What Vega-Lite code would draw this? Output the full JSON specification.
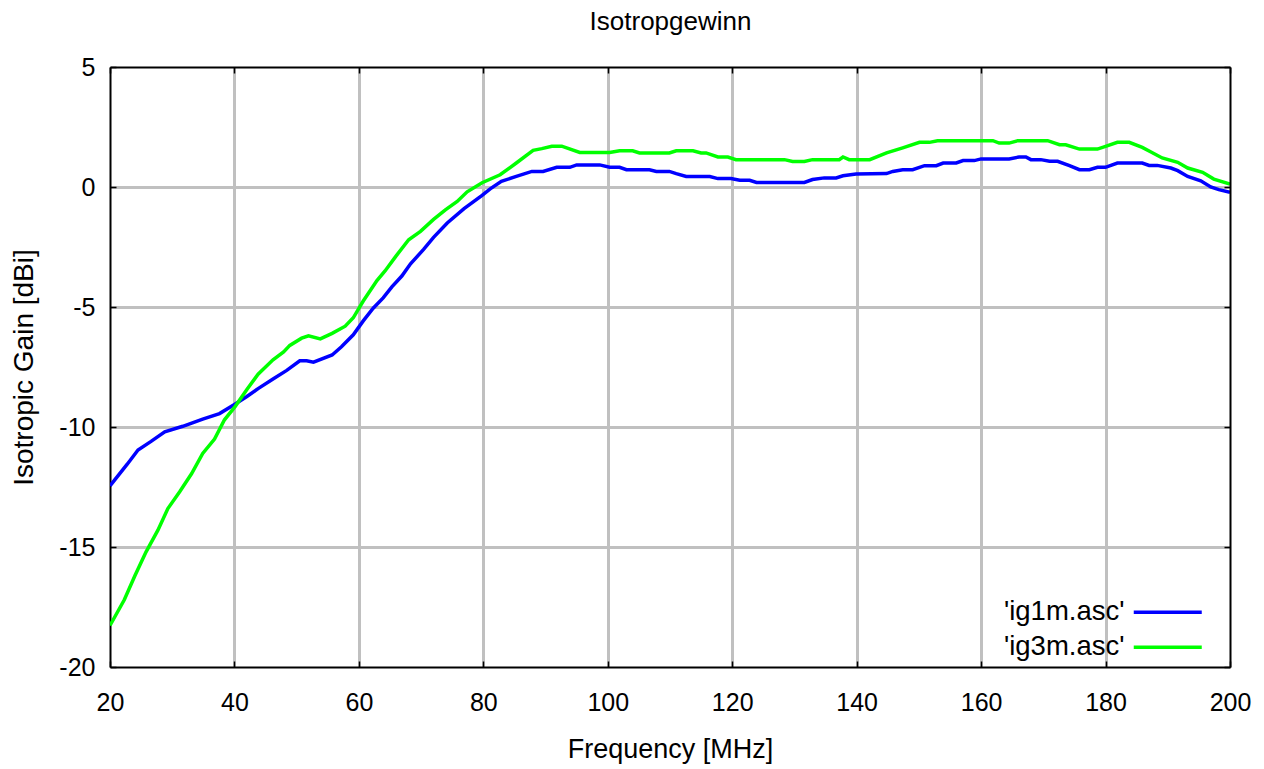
{
  "$schema": "https://vega.github.io/schema/vega-lite/v6.json",
  "autosize": {"type": "none"},
  "padding": {"left": 110, "top": 67, "right": 34, "bottom": 102},
  "width": 1120,
  "height": 600,
  "background": "white",
  "config": {"view": {"stroke": null}},
  "data": {"values": [
    {"f":20,"g":-12.45,"s":"'ig1m.asc'"},{"f":22.8,"g":-11.54,"s":"'ig1m.asc'"},{"f":24.5,"g":-10.96,"s":"'ig1m.asc'"},{"f":26.6,"g":-10.6,"s":"'ig1m.asc'"},{"f":28.8,"g":-10.2,"s":"'ig1m.asc'"},{"f":31.7,"g":-9.97,"s":"'ig1m.asc'"},{"f":34.9,"g":-9.67,"s":"'ig1m.asc'"},{"f":37.6,"g":-9.44,"s":"'ig1m.asc'"},{"f":40,"g":-9.06,"s":"'ig1m.asc'"},{"f":42,"g":-8.73,"s":"'ig1m.asc'"},{"f":43.8,"g":-8.4,"s":"'ig1m.asc'"},{"f":46.2,"g":-8.0,"s":"'ig1m.asc'"},{"f":48.4,"g":-7.64,"s":"'ig1m.asc'"},{"f":50.5,"g":-7.24,"s":"'ig1m.asc'"},{"f":51.6,"g":-7.24,"s":"'ig1m.asc'"},{"f":52.7,"g":-7.3,"s":"'ig1m.asc'"},{"f":55.7,"g":-7.0,"s":"'ig1m.asc'"},{"f":57.2,"g":-6.66,"s":"'ig1m.asc'"},{"f":59.1,"g":-6.16,"s":"'ig1m.asc'"},{"f":60.7,"g":-5.58,"s":"'ig1m.asc'"},{"f":62.3,"g":-5.05,"s":"'ig1m.asc'"},{"f":63.9,"g":-4.62,"s":"'ig1m.asc'"},{"f":65.3,"g":-4.16,"s":"'ig1m.asc'"},{"f":66.9,"g":-3.71,"s":"'ig1m.asc'"},{"f":68.3,"g":-3.2,"s":"'ig1m.asc'"},{"f":70.4,"g":-2.6,"s":"'ig1m.asc'"},{"f":72,"g":-2.1,"s":"'ig1m.asc'"},{"f":74.2,"g":-1.5,"s":"'ig1m.asc'"},{"f":76.9,"g":-0.9,"s":"'ig1m.asc'"},{"f":79.8,"g":-0.35,"s":"'ig1m.asc'"},{"f":81.1,"g":-0.08,"s":"'ig1m.asc'"},{"f":82.9,"g":0.24,"s":"'ig1m.asc'"},{"f":85.3,"g":0.44,"s":"'ig1m.asc'"},{"f":87.8,"g":0.65,"s":"'ig1m.asc'"},{"f":89.6,"g":0.65,"s":"'ig1m.asc'"},{"f":91.8,"g":0.82,"s":"'ig1m.asc'"},{"f":93.9,"g":0.82,"s":"'ig1m.asc'"},{"f":95,"g":0.92,"s":"'ig1m.asc'"},{"f":98.7,"g":0.92,"s":"'ig1m.asc'"},{"f":100.3,"g":0.82,"s":"'ig1m.asc'"},{"f":101.9,"g":0.82,"s":"'ig1m.asc'"},{"f":103,"g":0.72,"s":"'ig1m.asc'"},{"f":106.7,"g":0.72,"s":"'ig1m.asc'"},{"f":107.8,"g":0.65,"s":"'ig1m.asc'"},{"f":109.9,"g":0.65,"s":"'ig1m.asc'"},{"f":111,"g":0.56,"s":"'ig1m.asc'"},{"f":112.6,"g":0.44,"s":"'ig1m.asc'"},{"f":116.4,"g":0.44,"s":"'ig1m.asc'"},{"f":117.7,"g":0.35,"s":"'ig1m.asc'"},{"f":119.8,"g":0.35,"s":"'ig1m.asc'"},{"f":121.2,"g":0.28,"s":"'ig1m.asc'"},{"f":122.8,"g":0.28,"s":"'ig1m.asc'"},{"f":123.9,"g":0.19,"s":"'ig1m.asc'"},{"f":131.6,"g":0.19,"s":"'ig1m.asc'"},{"f":132.9,"g":0.31,"s":"'ig1m.asc'"},{"f":134.8,"g":0.38,"s":"'ig1m.asc'"},{"f":136.7,"g":0.38,"s":"'ig1m.asc'"},{"f":137.8,"g":0.47,"s":"'ig1m.asc'"},{"f":139.9,"g":0.54,"s":"'ig1m.asc'"},{"f":144.8,"g":0.56,"s":"'ig1m.asc'"},{"f":145.8,"g":0.65,"s":"'ig1m.asc'"},{"f":147.4,"g":0.72,"s":"'ig1m.asc'"},{"f":149,"g":0.72,"s":"'ig1m.asc'"},{"f":150.9,"g":0.89,"s":"'ig1m.asc'"},{"f":152.8,"g":0.89,"s":"'ig1m.asc'"},{"f":153.9,"g":1.0,"s":"'ig1m.asc'"},{"f":156,"g":1.0,"s":"'ig1m.asc'"},{"f":157.1,"g":1.1,"s":"'ig1m.asc'"},{"f":158.9,"g":1.1,"s":"'ig1m.asc'"},{"f":160,"g":1.17,"s":"'ig1m.asc'"},{"f":164.5,"g":1.17,"s":"'ig1m.asc'"},{"f":166.1,"g":1.25,"s":"'ig1m.asc'"},{"f":167.2,"g":1.25,"s":"'ig1m.asc'"},{"f":168,"g":1.14,"s":"'ig1m.asc'"},{"f":169.6,"g":1.14,"s":"'ig1m.asc'"},{"f":171,"g":1.07,"s":"'ig1m.asc'"},{"f":172.3,"g":1.07,"s":"'ig1m.asc'"},{"f":174.2,"g":0.89,"s":"'ig1m.asc'"},{"f":175.8,"g":0.72,"s":"'ig1m.asc'"},{"f":177.4,"g":0.72,"s":"'ig1m.asc'"},{"f":178.7,"g":0.82,"s":"'ig1m.asc'"},{"f":180,"g":0.82,"s":"'ig1m.asc'"},{"f":181.9,"g":1.0,"s":"'ig1m.asc'"},{"f":185.9,"g":1.0,"s":"'ig1m.asc'"},{"f":187,"g":0.9,"s":"'ig1m.asc'"},{"f":188.3,"g":0.9,"s":"'ig1m.asc'"},{"f":190.5,"g":0.79,"s":"'ig1m.asc'"},{"f":191.6,"g":0.68,"s":"'ig1m.asc'"},{"f":193.2,"g":0.44,"s":"'ig1m.asc'"},{"f":195.3,"g":0.26,"s":"'ig1m.asc'"},{"f":196.9,"g":0.0,"s":"'ig1m.asc'"},{"f":198.2,"g":-0.11,"s":"'ig1m.asc'"},{"f":200,"g":-0.22,"s":"'ig1m.asc'"},
    {"f":20,"g":-18.27,"s":"'ig3m.asc'"},{"f":22.3,"g":-17.2,"s":"'ig3m.asc'"},{"f":24,"g":-16.2,"s":"'ig3m.asc'"},{"f":25.8,"g":-15.2,"s":"'ig3m.asc'"},{"f":27.7,"g":-14.3,"s":"'ig3m.asc'"},{"f":29.3,"g":-13.4,"s":"'ig3m.asc'"},{"f":31.2,"g":-12.7,"s":"'ig3m.asc'"},{"f":33.1,"g":-11.95,"s":"'ig3m.asc'"},{"f":34.9,"g":-11.1,"s":"'ig3m.asc'"},{"f":36.8,"g":-10.5,"s":"'ig3m.asc'"},{"f":38.4,"g":-9.7,"s":"'ig3m.asc'"},{"f":40.1,"g":-9.15,"s":"'ig3m.asc'"},{"f":42,"g":-8.44,"s":"'ig3m.asc'"},{"f":43.8,"g":-7.8,"s":"'ig3m.asc'"},{"f":46.2,"g":-7.2,"s":"'ig3m.asc'"},{"f":47.9,"g":-6.87,"s":"'ig3m.asc'"},{"f":48.9,"g":-6.6,"s":"'ig3m.asc'"},{"f":50.8,"g":-6.3,"s":"'ig3m.asc'"},{"f":51.9,"g":-6.2,"s":"'ig3m.asc'"},{"f":53.8,"g":-6.33,"s":"'ig3m.asc'"},{"f":55.7,"g":-6.1,"s":"'ig3m.asc'"},{"f":57.8,"g":-5.8,"s":"'ig3m.asc'"},{"f":59.1,"g":-5.45,"s":"'ig3m.asc'"},{"f":60.7,"g":-4.75,"s":"'ig3m.asc'"},{"f":62.9,"g":-3.9,"s":"'ig3m.asc'"},{"f":64.2,"g":-3.5,"s":"'ig3m.asc'"},{"f":65.9,"g":-2.9,"s":"'ig3m.asc'"},{"f":68,"g":-2.2,"s":"'ig3m.asc'"},{"f":69.9,"g":-1.85,"s":"'ig3m.asc'"},{"f":72,"g":-1.35,"s":"'ig3m.asc'"},{"f":73.9,"g":-0.95,"s":"'ig3m.asc'"},{"f":75.8,"g":-0.6,"s":"'ig3m.asc'"},{"f":77.4,"g":-0.2,"s":"'ig3m.asc'"},{"f":79.8,"g":0.18,"s":"'ig3m.asc'"},{"f":82.7,"g":0.51,"s":"'ig3m.asc'"},{"f":85.3,"g":1.0,"s":"'ig3m.asc'"},{"f":88,"g":1.53,"s":"'ig3m.asc'"},{"f":89.4,"g":1.6,"s":"'ig3m.asc'"},{"f":91,"g":1.7,"s":"'ig3m.asc'"},{"f":92.6,"g":1.7,"s":"'ig3m.asc'"},{"f":95.5,"g":1.44,"s":"'ig3m.asc'"},{"f":100.3,"g":1.44,"s":"'ig3m.asc'"},{"f":101.9,"g":1.51,"s":"'ig3m.asc'"},{"f":104,"g":1.51,"s":"'ig3m.asc'"},{"f":105.1,"g":1.42,"s":"'ig3m.asc'"},{"f":109.9,"g":1.42,"s":"'ig3m.asc'"},{"f":111,"g":1.51,"s":"'ig3m.asc'"},{"f":113.7,"g":1.51,"s":"'ig3m.asc'"},{"f":115,"g":1.42,"s":"'ig3m.asc'"},{"f":115.8,"g":1.42,"s":"'ig3m.asc'"},{"f":117.7,"g":1.25,"s":"'ig3m.asc'"},{"f":119.3,"g":1.25,"s":"'ig3m.asc'"},{"f":120.6,"g":1.14,"s":"'ig3m.asc'"},{"f":128.4,"g":1.14,"s":"'ig3m.asc'"},{"f":129.7,"g":1.06,"s":"'ig3m.asc'"},{"f":131.6,"g":1.06,"s":"'ig3m.asc'"},{"f":132.9,"g":1.14,"s":"'ig3m.asc'"},{"f":137.2,"g":1.14,"s":"'ig3m.asc'"},{"f":137.8,"g":1.25,"s":"'ig3m.asc'"},{"f":138.8,"g":1.14,"s":"'ig3m.asc'"},{"f":142.1,"g":1.14,"s":"'ig3m.asc'"},{"f":144.8,"g":1.42,"s":"'ig3m.asc'"},{"f":147.4,"g":1.63,"s":"'ig3m.asc'"},{"f":150.1,"g":1.86,"s":"'ig3m.asc'"},{"f":151.7,"g":1.86,"s":"'ig3m.asc'"},{"f":153,"g":1.93,"s":"'ig3m.asc'"},{"f":161.9,"g":1.93,"s":"'ig3m.asc'"},{"f":162.9,"g":1.83,"s":"'ig3m.asc'"},{"f":164.5,"g":1.83,"s":"'ig3m.asc'"},{"f":165.9,"g":1.93,"s":"'ig3m.asc'"},{"f":170.7,"g":1.93,"s":"'ig3m.asc'"},{"f":172.6,"g":1.76,"s":"'ig3m.asc'"},{"f":173.6,"g":1.76,"s":"'ig3m.asc'"},{"f":175.8,"g":1.58,"s":"'ig3m.asc'"},{"f":178.7,"g":1.58,"s":"'ig3m.asc'"},{"f":180,"g":1.69,"s":"'ig3m.asc'"},{"f":181.9,"g":1.86,"s":"'ig3m.asc'"},{"f":183.8,"g":1.86,"s":"'ig3m.asc'"},{"f":185.9,"g":1.65,"s":"'ig3m.asc'"},{"f":187.3,"g":1.46,"s":"'ig3m.asc'"},{"f":189.1,"g":1.21,"s":"'ig3m.asc'"},{"f":191.6,"g":1.03,"s":"'ig3m.asc'"},{"f":193.2,"g":0.79,"s":"'ig3m.asc'"},{"f":195.6,"g":0.61,"s":"'ig3m.asc'"},{"f":197.4,"g":0.33,"s":"'ig3m.asc'"},{"f":200,"g":0.12,"s":"'ig3m.asc'"}
  ]},
  "layer": [
    {
      "mark": {"type": "line", "strokeWidth": 3.5, "clip": true},
      "encoding": {
        "x": {"field": "f", "type": "quantitative",
          "scale": {"domain": [20, 200], "nice": false, "zero": false},
          "axis": {"orient": "bottom", "values": [20,40,60,80,100,120,140,160,180,200], "title": "Frequency [MHz]",
            "titleFontSize": 27, "titleFont": "Liberation Sans", "titleFontWeight": "normal", "titleColor": "black", "titleY": 90, "titleBaseline": "alphabetic",
            "labelFontSize": 25, "labelFont": "Liberation Sans", "labelColor": "black", "labelPadding": 29, "labelFlush": false, "labelOverlap": false,
            "tickSize": -6, "tickColor": "black", "tickWidth": 1.5,
            "domainColor": "black", "domainWidth": 2,
            "grid": true, "gridColor": "#c0c0c0", "gridWidth": 3,
            "gridOpacity": {"condition": {"test": "datum.value == 20 || datum.value == 200", "value": 0}, "value": 1},
            "zindex": 0}},
        "y": {"field": "g", "type": "quantitative",
          "scale": {"domain": [-20, 5], "nice": false, "zero": false},
          "axis": {"orient": "left", "values": [-20,-15,-10,-5,0,5], "title": "Isotropic Gain [dBi]",
            "labelExpr": "'' + datum.value",
            "titleFontSize": 28, "titleFont": "Liberation Sans", "titleFontWeight": "normal", "titleColor": "black", "titleX": -78, "titleBaseline": "alphabetic",
            "labelFontSize": 25, "labelFont": "Liberation Sans", "labelColor": "black", "labelPadding": 21, "labelOverlap": false, "labelFlush": false,
            "tickSize": -6, "tickColor": "black", "tickWidth": 1.5,
            "domainColor": "black", "domainWidth": 2,
            "grid": true, "gridColor": "#c0c0c0", "gridWidth": 3,
            "gridOpacity": {"condition": {"test": "datum.value == -20 || datum.value == 5", "value": 0}, "value": 1},
            "zindex": 0}},
        "color": {"field": "s", "type": "nominal",
          "scale": {"domain": ["'ig1m.asc'", "'ig3m.asc'"], "range": ["#0000ff", "#00ff00"]},
          "legend": {"orient": "none", "legendX": 1044, "legendY": 531.5, "title": null, "padding": 0,
            "labelFontSize": 27.5, "labelFont": "Liberation Sans", "labelColor": "black", "labelAlign": "right", "labelOffset": -57, "labelLimit": 400,
            "symbolType": "M-4,0H4", "symbolSize": 289, "symbolStrokeWidth": 3.5, "rowPadding": 6}}
      }
    },
    {
      "mark": {"type": "line", "strokeWidth": 0, "opacity": 0},
      "encoding": {
        "x": {"field": "f", "type": "quantitative",
          "axis": {"orient": "top", "values": [20,40,60,80,100,120,140,160,180,200], "labels": false,
            "title": "Isotropgewinn", "titleFontSize": 26, "titleFont": "Liberation Sans", "titleFontWeight": "normal", "titleColor": "black", "titleY": -38, "titleBaseline": "alphabetic",
            "tickSize": -6, "tickColor": "black", "tickWidth": 1.5, "domainColor": "black", "domainWidth": 2, "grid": false, "zindex": 1}},
        "y": {"field": "g", "type": "quantitative",
          "axis": {"orient": "right", "values": [-20,-15,-10,-5,0,5], "title": null, "labels": false,
            "tickSize": -6, "tickColor": "black", "tickWidth": 1.5, "domainColor": "black", "domainWidth": 2, "grid": false, "zindex": 1}},
        "detail": {"field": "s", "type": "nominal"}
      }
    }
  ]
}
